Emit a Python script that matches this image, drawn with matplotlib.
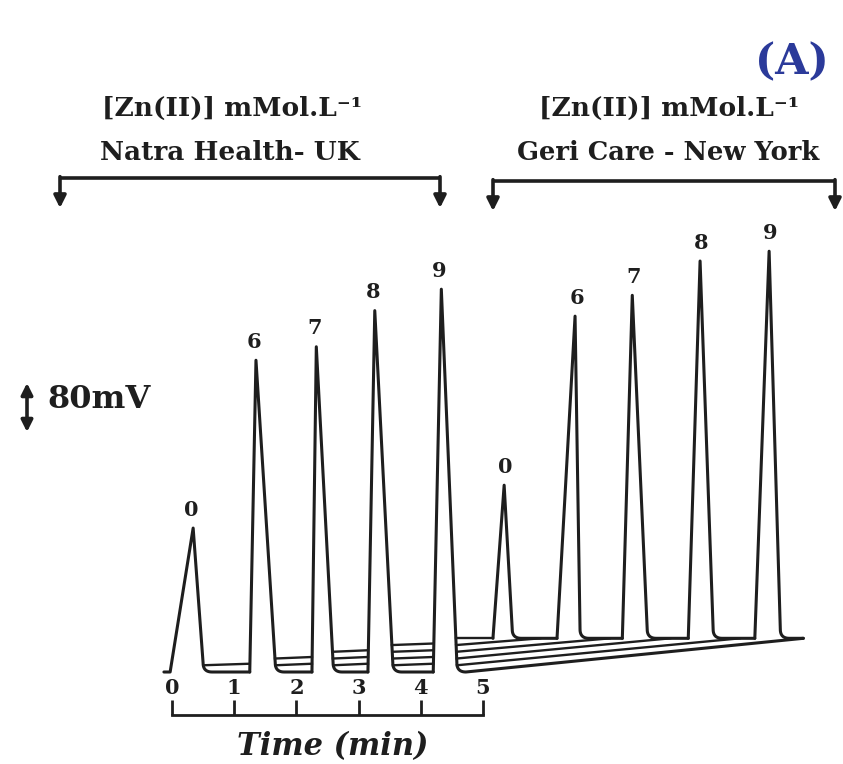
import numpy as np
import matplotlib
matplotlib.use("Agg")
import matplotlib.pyplot as plt

# ---------------- data ----------------
conc_labels = ["0", "6", "7", "8", "9"]          # [Zn(II)] mMol.L-1
# Natra Health - UK run (left)
left_apex_t = [0.34, 1.35, 2.32, 3.26, 4.33]      # min
left_height_mv = [235, 509, 531, 590, 625]        # mV
left_rise_t = [-0.03, 1.25, 2.25, 3.15, 4.20]
left_fall_t = [0.50, 1.66, 2.59, 3.55, 4.58]
# Geri Care - New York run (right)
right_apex_t = [5.34, 6.48, 7.40, 8.49, 9.60]
right_height_mv = [250, 526, 560, 616, 632]
right_rise_t = [5.16, 6.19, 7.24, 8.30, 9.37]
right_fall_t = [5.47, 6.56, 7.64, 8.70, 9.78]
right_foot_t = [5.92, 7.04, 8.01, 9.13, 10.15]
trace_step_mv = 11.0
time_ticks = [0, 1, 2, 3, 4, 5]
scale_mv = 80

# ---------------- figure ----------------
W, H = 843, 764
fig = plt.figure(figsize=(W / 100, H / 100), dpi=100)
fig.patch.set_facecolor("white")

T0_PX, PX_MIN = 172.0, 62.2
Y0_PX, PX_MV = 672.0, 49.0 / 80.0

ax = fig.add_axes([0, 0, 1, 1])
ax.set_xlim(-T0_PX / PX_MIN, (W - T0_PX) / PX_MIN)
ax.set_ylim(-(H - Y0_PX) / PX_MV, Y0_PX / PX_MV)
ax.axis("off")

deco = fig.add_axes([0, 0, 1, 1])
deco.set_xlim(0, W)
deco.set_ylim(H, 0)
deco.axis("off")
deco.patch.set_alpha(0)

LC = "#1e1e1e"
LW = 2.2
LW2 = 1.7
SERIF = ["DejaVu Serif", "DejaVu Sans"]

rt = 9 / PX_MIN
rv = 9 / PX_MV


def corner(x_side, y_level):
    s = np.linspace(0, 1, 14)
    p0 = np.array([x_side, y_level + rv])
    p1 = np.array([x_side, y_level])
    p2 = np.array([x_side + rt, y_level])
    pts = (1 - s)[:, None] ** 2 * p0 + 2 * ((1 - s) * s)[:, None] * p1 + (s ** 2)[:, None] * p2
    return list(pts[:, 0]), list(pts[:, 1])


def fall_x(apex_t, h, f_t, y):
    return apex_t + (f_t - apex_t) * (h - y) / (h - rv)


B = 5 * trace_step_mv  # baseline of the second run

# left run
for k in range(5):
    xs, ys = [], []
    if k == 0:
        xs.append(left_rise_t[0] - 0.1)
        ys.append(0)
    xs += [left_rise_t[k], left_apex_t[k]]
    ys += [0, left_height_mv[k]]
    cx, cy = corner(left_fall_t[k], 0)
    xs += cx
    ys += cy
    if k < 4:
        xs.append(left_rise_t[k + 1])
        ys.append(0)
    else:
        xs.append(right_foot_t[4])
        ys.append(B)
    ax.plot(xs, ys, color=LC, lw=LW, solid_joinstyle="round", solid_capstyle="round")
    # stacked baselines of the other traces inside the cell
    if k < 4:
        for m in range(1, k + 2):
            y = m * trace_step_mv
            x0 = fall_x(left_apex_t[k], left_height_mv[k], left_fall_t[k], y)
            ax.plot([x0, left_rise_t[k + 1]], [y, y + 2.5], color=LC, lw=LW2)
    else:
        for m in range(1, 5):
            y = m * trace_step_mv
            x0 = fall_x(left_apex_t[k], left_height_mv[k], left_fall_t[k], y)
            ax.plot([x0, right_foot_t[4 - m]], [y, B], color=LC, lw=LW2)
        x0 = fall_x(left_apex_t[k], left_height_mv[k], left_fall_t[k], B)
        ax.plot([x0, right_rise_t[0]], [B, B], color=LC, lw=LW2)
    ax.annotate(conc_labels[k], xy=(left_apex_t[k], left_height_mv[k]),
                xytext=(-1.5, 9.0), textcoords="offset points", ha="center",
                va="baseline", fontsize=15, fontweight="bold", family=SERIF, color=LC)

# right run
for j in range(5):
    xs = [right_rise_t[j], right_apex_t[j]]
    ys = [B, B + right_height_mv[j]]
    cx, cy = corner(right_fall_t[j], B)
    xs += cx
    ys += cy
    xs.append(right_rise_t[j + 1] if j < 4 else right_foot_t[4])
    ys.append(B)
    ax.plot(xs, ys, color=LC, lw=LW, solid_joinstyle="round", solid_capstyle="round")
    ax.annotate(conc_labels[j], xy=(right_apex_t[j], B + right_height_mv[j]),
                xytext=(1, 9.0), textcoords="offset points", ha="center",
                va="baseline", fontsize=15, fontweight="bold", family=SERIF, color=LC)

# scale bar (80 mV)
xbar = (27 - T0_PX) / PX_MIN
ybar = (Y0_PX - 432) / PX_MV
ax.annotate("", xy=(xbar, ybar + scale_mv), xytext=(xbar, ybar),
            arrowprops=dict(arrowstyle="<|-|>", lw=2.6, color=LC, mutation_scale=17,
                            shrinkA=0, shrinkB=0))
deco.text(47, 399, f"{scale_mv}mV", fontsize=23, fontweight="bold", family=SERIF,
          color=LC, ha="left", va="center")

# time axis
tax = fig.add_axes([T0_PX / W, (H - 715) / H, (5 * PX_MIN) / W, 15 / H])
tax.set_xlim(0, 5)
tax.set_ylim(0, 1)
tax.patch.set_alpha(0)
for s in ["top", "left", "right"]:
    tax.spines[s].set_visible(False)
tax.spines["bottom"].set_linewidth(2)
tax.spines["bottom"].set_color(LC)
tax.set_yticks([])
tax.set_xticks(time_ticks)
tax.set_xticklabels([str(t) for t in time_ticks])
tax.tick_params(axis="x", direction="in", length=10.8, width=2, color=LC,
                bottom=True, top=False, labelbottom=False, labeltop=True, pad=1.5,
                labelsize=15, labelcolor=LC)
for lab in tax.get_xticklabels():
    lab.set_fontweight("bold")
    lab.set_family(SERIF)
deco.text(333, 747, "Time (min)", fontsize=22, fontweight="bold", style="italic",
          family=SERIF, color=LC, ha="center", va="center")

# headers and brackets
hdr = dict(fontsize=19, fontweight="bold", family=SERIF, color=LC, ha="center", va="center")
deco.text(232, 108, "[Zn(II)] mMol.L\u207b\u00b9", **hdr)
deco.text(230, 153, "Natra Health- UK", **hdr)
deco.text(669, 108, "[Zn(II)] mMol.L\u207b\u00b9", **hdr)
deco.text(668, 153, "Geri Care - New York", fontsize=18.5, fontweight="bold",
          family=SERIF, color=LC, ha="center", va="center")
deco.text(792, 62, "(A)", fontsize=31, fontweight="bold", family=SERIF,
          color="#2b3a9a", ha="center", va="center")


def bracket(x0, x1, y, tip):
    deco.plot([x0, x1], [y, y], color=LC, lw=2.6, solid_capstyle="butt")
    for x in (x0, x1):
        deco.annotate("", xy=(x, tip), xytext=(x, y - 1.3),
                      arrowprops=dict(arrowstyle="-|>", lw=2.6, color=LC,
                                      mutation_scale=18, shrinkA=0, shrinkB=0))


bracket(60, 440, 178, 208)
bracket(493, 835, 181, 211)

fig.savefig("out.png", dpi=100, facecolor="white")
